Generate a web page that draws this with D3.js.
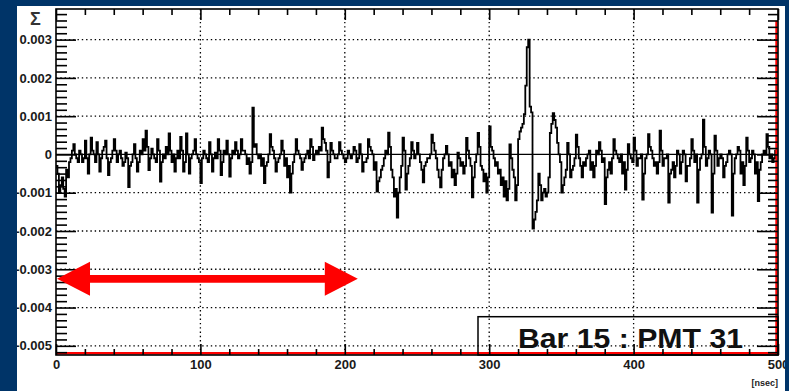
<!DOCTYPE html>
<html><head><meta charset="utf-8">
<script src="https://cdn.jsdelivr.net/npm/d3@7"></script>
<style>
html,body{margin:0;padding:0;background:#003468;overflow:hidden;}
svg{display:block;}
text{font-family:"Liberation Sans",Arial,Helvetica,sans-serif;}
</style></head><body>
<svg id="c" width="789" height="391"></svg>
<script>
// ---- data ----
const binWidth = 1; // nsec per bin
// signal amplitude per 1-ns bin, in units of 1e-4 (axis labels show volts)
const signal = [
 -3,-5,-10,-8,-6,-9,-11,-4,-6,-2, -1,1,2.7,0,-1,-2,1,0,-2,-1,
 3.6,-1,-5,0,4.4,1,0,-2,3.2,0, -4.5,-1,1,2,3.6,-1,-5.4,-2,-1,1,
 4,1,-2,0,1,-1,-3,-2,0.5,-1, -8.5,-3,-2,0,2.7,-1,-4.5,-2,1,0,
 4,1,6.2,2,-4.1,-1,1.5,0,-1,-2, 4,1,-7.1,-2,0,-1,2,0,5.5,1,
 -2,0,-4.5,-1,1,-1,4.6,1,-4.5,-2, 5.5,0,-5,-1,0,1,4,0,-1,-2,
 -7.5,-1,1,0,-1,-2,3.2,0,-4.5,-1, 0.5,-1,4,1,-5.4,-2,1,0,3.6,0,
 -5.8,-1,1,0,3.2,1,-1,0,4,1, 1,0,-2.5,-1,-5,-2,12.2,2,2.7,0,
 -1,0,-3,-1,-7.5,-3,-2,0,5.3,2, 1,-1,-4.5,-2,-1,0,3.6,1,-3,-1,
 -6,-3,-10,-5,-2,0,4,1,0,-1, -4,-2,-1,0,1,-1,4,2,-1.5,0,
 1,0,2,1,7,4,3,1,-6,-2, 3,1,0,-1,-1,0,3.2,1,0,-1,
 -2,-1,1,0,-1,0,2,1,-2,-1, 2.7,0,-4.5,-2,-2,-1,4,2,1,0,
 -4,-2,-9.7,-7,-6,-4,-3,-1,1,0, 5.7,2,-4,-6,-11,-9,-16.5,-10,-6,-3,
 4.4,1,-9.2,-5,-3,-1,3.2,1,-1,0, 3,0,-2,-4,-7.3,-3,-2,-1,-1,0,
 5.2,3,1,-1,-4,-6,-8.6,-4,-1,0, 2.2,0,-3,-2,-6,-4,-8,-5,0.5,-1,
 -3,-2,-5,-3,4.3,1,-1,-3,-11.2,-6, -2,0,5.6,2,-3,-4,-7,-5,-10,-6,
 7.3,2,1,-1,-3,-2,-5,-4,-8,-6, -11,-7,-12,-9,2.6,-1,-4,-6,-12,-8,
 4,6,7,8,10.5,18,28,30,12.5,11, -19.4,-17,-15,-12,-5,-8,-12,-10,-9,-11,
 -10,-6,5.6,8,10.8,9,7,3,0,-2, -10,-8,-6,-4,3,0,-6,-4,-3,-1,
 5.2,2,-1,-3,-6,-2,-3,-1,0,1, -4,-2,-6,-3,1,0,3.2,1,-2,-1,
 -13,-6,-4,-2,-5,-1,4,1,0,-1, -2,0,-5,-2,-9.2,-4,2.7,0,-1,-2,
 4.4,1,-3,-1,-1,0,-11.8,-5,-1,0, 5.3,2,1,-1,-3,-2,-5,-2,6.2,1,
 -3,-1,-1,0,-12.6,-5,-4,-2,-6,-3, 1,0,-5,-2,1,0,-7,-3,-3,-1,
 4,1,-2,0,-12.6,-4,-1,0,9.1,2, -3,-1,1,0,-15.2,-5,4.9,1,-3,-1,
 0,-1,-6,-3,-2,0,1,0,-16,-5, -1,0,2,1,-5,-2,-8,-3,4.4,1,
 -2,-1,1,0,-5,-2,-12.2,-4,-2,0, 1,0,5.3,2,-1,0,-2,-1,1,0
];
const xDomain = [0, 500];
const yDomain = [-52.4, 38];
const xMajorTicks = [0, 100, 200, 300, 400, 500];
const xTickLabels = ["0", "100", "200", "300", "400", "500"];
const yMajorTicks = [30, 20, 10, 0, -10, -20, -30, -40, -50];
const yTickLabels = ["0.003", "0.002", "0.001", "0", "-0.001", "-0.002", "-0.003", "-0.004", "-0.005"];
const xGrid = [100, 200, 300, 400];
const yGrid = [30, 20, 10, -10, -20, -30, -40, -50];
const xTitle = "[nsec]";
const yTitle = "\u03A3";
const boxLabel = "Bar 15 : PMT 31";
const arrowFrom = 0.7, arrowTo = 209, arrowLevel = -32.5;

// ---- layout ----
const svg = d3.select("#c");
const L = 56, R = 778, T = 9, B = 355;
const x = d3.scaleLinear().domain(xDomain).range([L, R]);
const y = d3.scaleLinear().domain(yDomain).range([B, T]);

const defs = svg.append("defs");
defs.append("clipPath").attr("id", "panelClip").append("rect")
  .attr("x", 17).attr("y", 6).attr("width", 768).attr("height", 385);
defs.append("clipPath").attr("id", "plotClip").append("rect")
  .attr("x", L).attr("y", T).attr("width", R - L).attr("height", B - T);

svg.append("rect").attr("x", 17).attr("y", 6).attr("width", 768).attr("height", 385).attr("fill", "#fff");
const g = svg.append("g").attr("clip-path", "url(#panelClip)");

// grid
const grid = g.append("g").attr("stroke", "#000").attr("stroke-width", 1.3).attr("stroke-dasharray", "1.4,2.9");
grid.selectAll("line.v").data(xGrid).join("line").attr("class", "v")
  .attr("x1", d => x(d)).attr("x2", d => x(d)).attr("y1", T).attr("y2", B);
grid.selectAll("line.h").data(yGrid).join("line").attr("class", "h")
  .attr("y1", d => y(d)).attr("y2", d => y(d)).attr("x1", L).attr("x2", R);

// zero line
g.append("line").attr("x1", L).attr("x2", R).attr("y1", y(0)).attr("y2", y(0))
  .attr("stroke", "#000").attr("stroke-width", 1.3);

// trace
const pts = signal.map((v, i) => [i * binWidth, v]);
pts.push([xDomain[1], signal[signal.length - 1]]);
g.append("path").attr("clip-path", "url(#plotClip)")
  .datum(pts)
  .attr("d", d3.line().x(d => x(d[0])).y(d => y(d[1])).curve(d3.curveStepAfter))
  .attr("fill", "none").attr("stroke", "#000").attr("stroke-width", 1.8);

// red edges
g.append("line").attr("x1", L).attr("x2", R).attr("y1", B - 1.8).attr("y2", B - 1.8)
  .attr("stroke", "#f00").attr("stroke-width", 2.6);
g.append("line").attr("x1", R - 1.6).attr("x2", R - 1.6).attr("y1", T + 12).attr("y2", B)
  .attr("stroke", "#f00").attr("stroke-width", 2.2);

// axes
const xMinor = d3.range(0, 501, 20).filter(v => v % 100 !== 0);
const yStep = 10 / 6;
const yMinor = d3.range(-50 - yStep, 38, yStep).filter(v => Math.abs(v / 10 - Math.round(v / 10)) > 0.01);

function styleAxis(sel) {
  sel.select(".domain").remove();
  sel.selectAll(".tick line").attr("stroke", "#000").attr("stroke-width", 1.6);
  sel.selectAll(".tick text").attr("fill", "#1a1a1a").attr("font-size", 13).attr("font-weight", "bold");
}
g.append("g").attr("transform", `translate(0,${B})`)
  .call(d3.axisBottom(x).tickValues(xMajorTicks).tickSize(-11).tickPadding(5).tickFormat((d, i) => xTickLabels[i]))
  .call(styleAxis);
g.append("g").attr("transform", `translate(0,${B})`)
  .call(d3.axisBottom(x).tickValues(xMinor).tickSize(-6).tickFormat(""))
  .call(styleAxis);
g.append("g").attr("transform", `translate(0,${T})`)
  .call(d3.axisTop(x).tickValues(xMajorTicks).tickSize(-11).tickFormat(""))
  .call(styleAxis);
g.append("g").attr("transform", `translate(0,${T})`)
  .call(d3.axisTop(x).tickValues(xMinor).tickSize(-6).tickFormat(""))
  .call(styleAxis);
g.append("g").attr("transform", `translate(${L},0)`)
  .call(d3.axisLeft(y).tickValues(yMajorTicks).tickSize(-20).tickPadding(4).tickFormat((d, i) => yTickLabels[i]))
  .call(styleAxis);
g.append("g").attr("transform", `translate(${L},0)`)
  .call(d3.axisLeft(y).tickValues(yMinor).tickSize(-11).tickFormat(""))
  .call(styleAxis);
g.append("g").attr("transform", `translate(${R},0)`)
  .call(d3.axisRight(y).tickValues(yMajorTicks).tickSize(-21).tickFormat(""))
  .call(styleAxis);
g.append("g").attr("transform", `translate(${R},0)`)
  .call(d3.axisRight(y).tickValues(yMinor).tickSize(-10).tickFormat(""))
  .call(styleAxis);

// frame
g.append("rect").attr("x", L).attr("y", T).attr("width", R - L).attr("height", B - T)
  .attr("fill", "none").attr("stroke", "#000").attr("stroke-width", 1.6);

// titles
g.append("text").attr("x", R).attr("y", 386).attr("text-anchor", "end")
  .attr("font-size", 9).attr("font-weight", "bold").attr("fill", "#222").text(xTitle);
g.append("text").attr("x", 35.5).attr("y", 25).attr("text-anchor", "middle")
  .attr("font-size", 18).attr("font-weight", "bold").attr("fill", "#333").text(yTitle);

// label box
g.append("rect").attr("x", 478).attr("y", 316.7).attr("width", R - 478).attr("height", B - 316.7)
  .attr("fill", "none").attr("stroke", "#000").attr("stroke-width", 1.5);
g.append("text").attr("x", 630.5).attr("y", 348).attr("text-anchor", "middle")
  .attr("font-size", 28).attr("font-weight", "bold").attr("fill", "#111")
  .attr("textLength", 225).attr("lengthAdjust", "spacingAndGlyphs").text(boxLabel);

// red double arrow
const ax0 = x(arrowFrom), ax1 = x(arrowTo), ay = y(arrowLevel);
const headL = 33, headH = 17, shaft = 3.9;
const arrowPts = [
  [ax0, ay], [ax0 + headL, ay - headH], [ax0 + headL, ay - shaft], [ax1 - headL, ay - shaft],
  [ax1 - headL, ay - headH], [ax1, ay], [ax1 - headL, ay + headH], [ax1 - headL, ay + shaft],
  [ax0 + headL, ay + shaft], [ax0 + headL, ay + headH]
];
g.append("path").attr("d", d3.line()(arrowPts) + "Z").attr("fill", "#f00");
</script>
</body></html>
